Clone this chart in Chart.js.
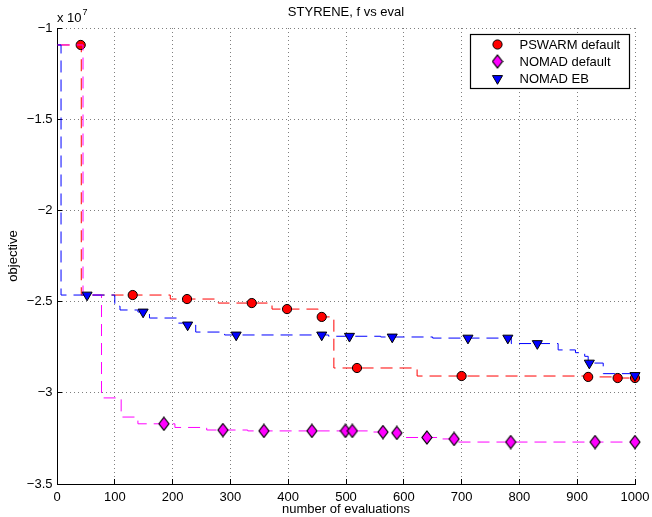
<!DOCTYPE html>
<html>
<head>
<meta charset="utf-8">
<script src="https://cdn.jsdelivr.net/npm/chart.js@4.4.1/dist/chart.umd.min.js"></script>
<style>
html,body{margin:0;padding:0;background:#fff;}
#wrap{position:relative;width:652px;height:517px;}
</style>
</head>
<body>
<div id="wrap"><canvas id="c" width="652" height="517"></canvas></div>
<script>
const FONT = '"Liberation Sans", Arial, Helvetica, sans-serif';

// ----- data (objective values in units of 1e7) -----
const chartTitle = 'STYRENE, f vs eval';
const xTitle = 'number of evaluations';
const yTitle = 'objective';
const yExponent = '7';
const seriesNames = ['PSWARM default', 'NOMAD default', 'NOMAD EB'];
const xTickValues = [0, 100, 200, 300, 400, 500, 600, 700, 800, 900, 1000];
const yTickValues = [-3.5, -3, -2.5, -2, -1.5, -1];

// PSWARM default: stair steps and marked points
const pswarmStepEval = [1, 42, 196, 279, 372, 452, 479, 623, 917, 960, 1000];
const pswarmStepObj  = [-1.093, -2.464, -2.486, -2.508, -2.541, -2.584, -2.864, -2.908, -2.913, -2.919, -2.919];
const pswarmMarkEval = [41, 131, 225, 337, 398, 458, 519, 700, 919, 970, 1000];
const pswarmMarkObj  = [-1.093, -2.464, -2.486, -2.508, -2.541, -2.584, -2.864, -2.908, -2.913, -2.919, -2.919];

// NOMAD default
const nomadStepEval = [1, 45, 77, 111, 140, 204, 259, 330, 540, 580, 595, 660, 694, 1000];
const nomadStepObj  = [-1.093, -2.464, -3.028, -3.133, -3.17, -3.19, -3.204, -3.209, -3.215, -3.22, -3.245, -3.253, -3.27, -3.27];
const nomadMarkEval = [185, 287, 358, 441, 499, 511, 564, 588, 640, 687, 785, 931, 1000];
const nomadMarkObj  = [-3.17, -3.204, -3.209, -3.209, -3.209, -3.209, -3.215, -3.22, -3.245, -3.253, -3.27, -3.27, -3.27];

// NOMAD EB
const ebStepEval = [1, 7, 100, 109, 140, 160, 209, 220, 240, 290, 470, 560, 650, 786, 867, 897, 913, 919, 945, 1000];
const ebStepObj  = [-1.093, -2.464, -2.525, -2.546, -2.557, -2.59, -2.618, -2.628, -2.667, -2.683, -2.69, -2.694, -2.70, -2.73, -2.765, -2.78, -2.80, -2.837, -2.895, -2.905];
const ebMarkEval = [52, 149, 226, 310, 458, 506, 580, 711, 780, 831, 921, 1000];
const ebMarkObj  = [-2.464, -2.557, -2.628, -2.683, -2.683, -2.69, -2.694, -2.70, -2.70, -2.73, -2.837, -2.905];

// ----- styling helpers -----
const RED = '#ff0000', MAG = '#ff00ff', BLUE = '#0000ff';
const zip = (xs, ys) => xs.map((x, i) => ({x: x, y: ys[i]}));

function diamondImage() {
  const c = document.createElement('canvas');
  c.width = 12; c.height = 15;
  const g = c.getContext('2d');
  g.beginPath();
  g.moveTo(6, 1); g.lineTo(11, 7.5); g.lineTo(6, 14); g.lineTo(1, 7.5);
  g.closePath();
  g.fillStyle = MAG; g.fill();
  g.strokeStyle = '#000'; g.lineWidth = 1.2; g.stroke();
  return c;
}
const DIAMOND = diamondImage();

function lineDs(label, xs, ys, color, order) {
  return {
    type: 'line', label: label, data: zip(xs, ys),
    borderColor: color, borderWidth: 1, borderDash: [12, 7],
    stepped: true, pointRadius: 0, pointHoverRadius: 0, fill: false,
    clip: false, order: order
  };
}
function markDs(label, xs, ys, style, order) {
  return Object.assign({
    type: 'line', label: label, data: zip(xs, ys), showLine: false,
    pointBorderColor: '#000', pointBorderWidth: 1, clip: false, order: order
  }, style);
}

const datasets = [
  markDs(seriesNames[2], ebMarkEval, ebMarkObj,
    {pointStyle: 'triangle', pointRotation: 180, pointRadius: 5.8, pointBackgroundColor: BLUE}, 1),
  lineDs(seriesNames[2], ebStepEval, ebStepObj, BLUE, 2),
  markDs(seriesNames[1], nomadMarkEval, nomadMarkObj,
    {pointStyle: DIAMOND, pointRadius: 6, pointBackgroundColor: MAG}, 3),
  lineDs(seriesNames[1], nomadStepEval, nomadStepObj, MAG, 4),
  markDs(seriesNames[0], pswarmMarkEval, pswarmMarkObj,
    {pointStyle: 'circle', pointRadius: 4.6, pointBackgroundColor: RED}, 5),
  lineDs(seriesNames[0], pswarmStepEval, pswarmStepObj, RED, 6)
];

// ----- plugins: exponent label and MATLAB-style legend -----
const exponentPlugin = {
  id: 'exponent',
  afterDraw(chart) {
    const ctx = chart.ctx, a = chart.chartArea;
    ctx.save();
    ctx.fillStyle = '#000';
    ctx.textBaseline = 'alphabetic';
    ctx.textAlign = 'left';
    ctx.font = '13px ' + FONT;
    const base = 'x 10';
    ctx.fillText(base, a.left, a.top - 6);
    const w = ctx.measureText(base).width;
    ctx.font = '9px ' + FONT;
    ctx.fillText(yExponent, a.left + w + 1, a.top - 13);
    ctx.restore();
  }
};

const legendPlugin = {
  id: 'matlabLegend',
  afterDraw(chart) {
    const ctx = chart.ctx, a = chart.chartArea;
    const boxW = 159, boxH = 54;
    const x0 = Math.round(a.right - 6 - boxW) + 0.5, y0 = Math.round(a.top + 6) + 0.5;
    ctx.save();
    ctx.fillStyle = '#fff';
    ctx.fillRect(x0, y0, boxW, boxH);
    ctx.strokeStyle = '#000'; ctx.lineWidth = 1.2;
    ctx.strokeRect(x0, y0, boxW, boxH);
    const mx = x0 + 27, tx = x0 + 49;
    const rows = [y0 + 10, y0 + 27, y0 + 44];
    ctx.font = '13px ' + FONT;
    ctx.textBaseline = 'middle'; ctx.textAlign = 'left';
    ctx.lineWidth = 1; ctx.strokeStyle = '#000';
    ctx.beginPath(); ctx.arc(mx, rows[0], 4.6, 0, Math.PI * 2);
    ctx.fillStyle = RED; ctx.fill(); ctx.stroke();
    ctx.drawImage(DIAMOND, mx - DIAMOND.width / 2, rows[1] - DIAMOND.height / 2);
    const r = 5.8;
    ctx.beginPath();
    ctx.moveTo(mx - r * Math.sqrt(3) / 2, rows[2] - r / 2);
    ctx.lineTo(mx + r * Math.sqrt(3) / 2, rows[2] - r / 2);
    ctx.lineTo(mx, rows[2] + r);
    ctx.closePath();
    ctx.fillStyle = BLUE; ctx.fill(); ctx.stroke();
    ctx.fillStyle = '#000';
    seriesNames.forEach((n, i) => ctx.fillText(n, tx, rows[i] + 0.5));
    ctx.restore();
  }
};

const minus = v => String(v).replace('-', '\u2212');
const zeroPad = s => { s.paddingLeft = 0; s.paddingRight = 0; s.paddingTop = 0; s.paddingBottom = 0; };
const GRID = '#7f7f7f';

new Chart(document.getElementById('c'), {
  type: 'line',
  data: {datasets: datasets},
  options: {
    responsive: false,
    animation: false,
    devicePixelRatio: 1,
    layout: {padding: {left: 0, right: 17, top: 0, bottom: 0}},
    plugins: {
      legend: {display: false},
      tooltip: {enabled: false},
      title: {
        display: true, text: chartTitle, fullSize: false, color: '#000',
        font: {family: FONT, size: 13, weight: 'normal'},
        padding: {top: 4.7, bottom: 7.7}
      }
    },
    scales: {
      x: {
        type: 'linear', min: 0, max: 1000,
        afterBuildTicks: s => { s.ticks = xTickValues.map(v => ({value: v})); },
        afterFit: s => { s.height = 33; zeroPad(s); },
        ticks: {color: '#000', font: {family: FONT, size: 13}, padding: 10.2, maxRotation: 0, autoSkip: false,
                callback: v => minus(v)},
        grid: {display: true, drawOnChartArea: true, color: GRID, lineWidth: 1, tickLength: -5, tickColor: '#000', tickWidth: 1, drawTicks: true},
        border: {display: true, color: '#000', width: 1, dash: [1, 3]},
        title: {display: true, text: xTitle, color: '#000', font: {family: FONT, size: 13}, padding: {top: 0, bottom: 0}}
      },
      y: {
        type: 'linear', min: -3.5, max: -1,
        afterBuildTicks: s => { s.ticks = yTickValues.map(v => ({value: v})); },
        afterFit: s => { s.width = 57; zeroPad(s); },
        ticks: {color: '#000', font: {family: FONT, size: 13}, padding: 9.5, autoSkip: false,
                callback: v => minus(v)},
        grid: {display: true, drawOnChartArea: true, color: GRID, lineWidth: 1, tickLength: -5, tickColor: '#000', tickWidth: 1, drawTicks: true},
        border: {display: true, color: '#000', width: 1, dash: [1, 3]},
        title: {display: true, text: yTitle, color: '#000', font: {family: FONT, size: 13}, padding: {top: 5.5, bottom: 0}}
      }
    }
  },
  plugins: [exponentPlugin, legendPlugin]
});
</script>
</body>
</html>
